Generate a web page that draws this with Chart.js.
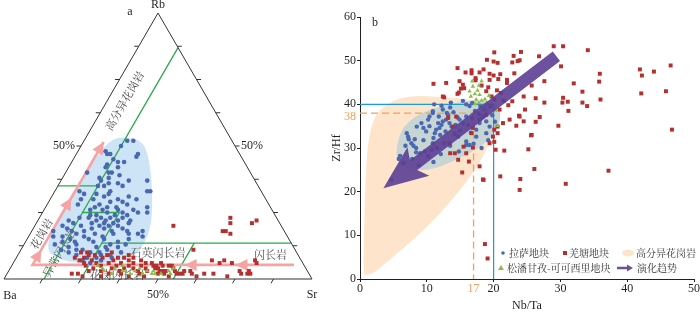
<!DOCTYPE html>
<html lang="zh">
<head>
<meta charset="utf-8">
<title>Rb-Ba-Sr 与 Zr/Hf-Nb/Ta 图解</title>
<script src="https://cdn.jsdelivr.net/npm/chart.js@4.4.1/dist/chart.umd.min.js"></script>
<style>
  html, body { margin: 0; padding: 0; background: #fff; }
  #page { position: relative; width: 700px; height: 313px; overflow: hidden; }
  #ternary { position: absolute; left: 0; top: 0; }
  #ratios { position: absolute; left: 330px; top: 0; }
</style>
</head>
<body>
<div id="page">
  <canvas id="ternary" width="330" height="313"></canvas>
  <canvas id="ratios" width="370" height="313"></canvas>
</div>
<script>
// ============================================
// a: Rb-Ba-Sr ternary   samples as [Rb %, Sr %]  (Ba = 100 - Rb - Sr)
// ============================================
const lhasaTern = [
  [52,14],[52,16],[47,10],[47,11],[46,20],[44,15],[40,7],[42,12],[40,14],[37,28],[37,22],[36,19],
  [37,13],[35,15],[33,18],[32,14],[33,30],[32,10],[30,10],[28,10],[31,17],[30,22],[28,26],[28,17],
  [27,20],[26,15],[27,16],[25,31],[25,34],[23,20],[22,22],[23,23],[21,25],[23,27],[20,21],[21,18],
  [18,17],[17,15],[18,13],[22,10],[20,9],[18,7],[16,8],[15,14],[13,17],[15,20],[16,24],[17,27],
  [18,31],[17,35],[18,36],[16,37],[15,33],[12,31],[11,28],[10,26],[8,23],[7,22],[10,33],[8,31],
  [47,20],[48,9],[44,17],[43,12],[40,15],[38,12],[38,15],[36,16],[33,31],[33,8],[35,13],[32,18],
  [27,33],[24,18],[25,21],[24,24],[22,19],[21,22],[20,24],[19,19],[19,23],[18,26],[17,21],[16,18],
  [15,25],[14,22],[13,28],[12,24],[11,20],[10,23],[9,27],[24,16],[26,19],[27,23],[29,20],[23,16],
  [20,15],[21,12],[14,12],[12,15],[11,18],[9,19],[8,26],[13,33],[9,30],[26,24],[25,26],[24,28],
  [22,26],[20,27],[19,29],[21,30],[14,30],[12,27],[23,13],[19,11],[16,11],[13,10],[14,16],[10,16],
  [11,13],[29,24],[30,14],[35,21],[39,18],[42,16],[45,13],[50,13],[30,28],[31,25],[26,29],[22,30],
  [17,32],[7,28],[6,25]
];
const qiangtangTern = [
  [20,45],[23,62],[21,63],[18,62],[18,63],[17,65],[22,71],[21,70],[11,56],[7,64],[6,67],[7,68],
  [2,64],[1,62],[2,67],[1,72],[2,76],[3,75],[2,78],[2,79],[7,78],[6,79],[6,71],[3,78],[3,57],
  [2,57],[2,55],[1,53],[3,51],[3,50],[4,48],[5,46],[5,49],[7,21],[8,22],[7,25],[5,29],[6,31],
  [7,32],[6,35],[5,38],[6,39],[5,42],[3,45],[4,47],[3,49],[5,51],[3,54],[2,56],[2,21],[1,25],
  [2,23],[1,40],[1,45],[2,49],[2,51],[10,22],[10,20],[10,30],[8,33],[8,35],[8,38],[7,41],[6,45],
  [6,48],[5,52],[4,27],[3,30],[4,33],[3,36],[5,34],[4,40],[2,43],[6,27],[5,24],[8,28],[9,25],
  [4,44],[3,42],[2,37],[2,33],[1,31],[3,26],[6,43],[5,47],[4,53],[3,59],[2,60],[9,29],[9,36],
  [7,37],[4,37],[6,23],[8,19],[9,23]
];
const songpanTern = [
  [5,28],[3,31],[4,34],[3,37],[3,41],[2,44],[3,45],[2,48],[2,50],[3,52],[4,53],[2,40],[2,47],
  [2,34],[4,30],[3,38],[4,42],[3,47],[2,53],[5,36]
];
// field boundaries, each a segment of two [Rb, Sr] ends
const fieldBoundaries = [
  [[0,13],[87,13]], [[0,25],[25,25]], [[25,13],[25,25]],
  [[35,0],[35,13]], [[13.5,25],[13.5,86.5]], [[0,55],[13.5,55]]
];
const lhasaBlobTern = [
  [53.5,12],[52,19.5],[42,26.6],[29.7,33.4],[19.7,37.9],[13.4,38.9],[8.4,38.2],[5.9,31.9],
  [5.9,20.1],[8.4,11.3],[12.1,7.9],[18.4,6.3],[29.7,6],[39.7,6.4],[48.5,7.4],[52.3,8.7]
];
const trendPathTern = [[5.3,91.5],[5.3,6.6],[51.5,6.6]];
const trendTipsSr = [56, 72.5];        // heads on the low-Rb leg (Sr %)
const trendTipsRb = [11, 30.5, 51.5];  // heads on the rising leg (Rb %)
const ternTicks = [12.5, 25, 37.5, 50, 62.5, 75, 87.5];

// ============================================
// b: Zr/Hf vs Nb/Ta   samples as [Nb/Ta, Zr/Hf]
// ============================================
const nbTaTicks = [0, 10, 17, 20, 30, 40, 50];
const zrHfTicks = [0, 10, 20, 30, 40, 50, 60];
const lhasaRatios = [
  [7.0,33.4],[7.2,32.6],[7.7,31.1],[8.0,30.5],[8.4,30.0],[9.0,28.8],[9.7,29.2],[10.2,28.1],
  [10.7,29.6],[10.9,31.1],[11.2,33.4],[11.4,34.2],[11.9,34.6],[12.2,35.3],[11.7,35.7],[12.4,36.1],
  [12.9,36.5],[13.4,35.7],[13.7,34.9],[14.3,35.3],[14.9,36.5],[15.4,35.7],[15.9,37.2],[16.2,35.3],
  [10.4,37.2],[10.2,36.5],[10.9,38.0],[9.2,35.7],[9.5,34.6],[9.9,33.8],[8.5,34.9],[17.9,35.7],
  [18.9,36.1],[19.4,34.9],[18.4,37.2],[17.4,34.2],[16.4,30.7],[15.9,31.5],[14.7,32.6],[4.7,22.7],
  [6.0,28.2],[7.3,32.0],[10.9,38.4],[12.4,38.8],[13.6,40.4],[15.4,40.8],[15.9,40.0],[16.4,39.6],
  [8.4,29.0],[15.9,30.7],[17.4,32.6],[18.9,33.4],[5.8,27.5],[6.5,26.5],[8.8,26.0],[12.0,33.0],
  [12.8,33.8],[13.2,37.5],[14.0,38.2],[14.6,37.0],[15.0,34.0],[16.8,36.8],[17.2,38.5],[17.8,37.8],
  [18.6,38.8],[19.5,39.5],[19.8,37.5],[20.2,36.0],[16.6,33.5],[14.2,33.2],[11.0,32.3],[12.6,31.2],
  [11.5,30.0],[13.5,30.5],[9.5,31.8],[8.2,32.0],[10.4,35.0],[11.8,37.2],[13.0,38.0],[6.8,30.5],
  [7.8,27.5],[11.0,26.8],[12.1,28.6],[14.8,29.2],[17.0,31.0],[18.2,30.0],[19.2,31.8],[11.1,40.0],
  [12.2,39.7],[13.5,39.3],[16.8,40.3],[18.0,39.6]
];
const qiangtangRatios = [
  [29.0,53.3],[30.4,53.3],[34.1,52.4],[24.1,52.0],[23.9,50.1],[26.8,51.0],[30.1,48.7],[35.9,47.0],
  [41.9,48.0],[46.5,48.9],[44.0,47.5],[42.2,46.6],[35.8,45.2],[32.0,44.8],[27.6,45.3],[25.7,44.3],
  [33.3,42.9],[45.8,43.0],[42.1,42.5],[24.5,41.8],[26.3,41.4],[30.4,41.5],[30.3,40.4],[31.1,40.6],
  [33.3,40.4],[34.0,39.6],[36.0,41.1],[27.6,40.4],[24.7,38.8],[31.2,38.5],[23.9,37.2],[24.5,36.1],
  [26.9,37.1],[26.3,36.0],[29.7,35.1],[46.7,34.2],[25.7,33.0],[25.2,29.7],[26.1,25.2],[37.2,24.8],
  [24.0,22.9],[30.8,21.8],[23.9,20.4],
  [20.1,51.9],[23.0,51.1],[19.0,50.2],[20.0,49.8],[20.6,49.5],[22.8,49.6],[23.6,49.9],[14.6,48.3],
  [15.8,47.3],[16.7,47.8],[16.7,47.1],[17.9,47.3],[18.5,48.0],[19.4,47.0],[20.0,46.6],[21.0,46.9],
  [23.1,47.1],[14.9,45.3],[17.3,46.0],[17.3,45.5],[19.4,45.6],[20.7,45.8],[22.0,45.6],[22.0,44.9],
  [11.0,44.7],[12.9,44.9],[15.4,44.5],[15.6,43.7],[18.2,44.3],[19.2,43.9],[15.1,43.6],[14.8,42.7],
  [14.6,42.4],[18.9,43.0],[20.5,43.2],[21.1,42.6],[19.7,41.8],[12.6,41.6],[20.1,41.1],[21.5,40.8],
  [22.8,40.7],[22.2,39.8],[20.9,38.8],[23.8,37.4],
  [13.5,28.8],[14.2,28.8],[14.7,27.3],[15.9,28.8],[16.3,26.9],[15.3,24.4],[18.5,22.7],[17.9,25.8],
  [21.0,23.5],[21.6,29.4],[19.4,31.1],[20.1,31.4],[13.4,31.1],[23.4,35.1],[22.4,36.5],[21.4,35.7],
  [20.6,34.9],[20.1,34.2],[20.6,33.4],[19.9,32.6],[16.7,33.4],[16.9,34.6],[13.9,34.9],[13.2,36.9],
  [14.4,37.2],[17.9,36.5],[18.9,37.6],[18.7,8.0],[19.1,4.7],[12.4,41.8],[20.3,29.6],[25.6,32.9],
  [16.9,30.1],[18.4,22.8],[15.5,30.3]
];
const songpanRatios = [
  [16.9,44.1],[17.8,44.3],[16.4,43.0],[17.2,42.4],[17.9,42.2],[17.4,41.1],[18.2,40.9],[18.7,41.2],
  [17.8,40.3],[17.2,40.1],[18.6,39.9],[19.0,40.4],[16.8,45.3],[18.2,45.3],[20.3,38.6],[20.6,35.1],
  [16.6,41.8],[19.3,42.0],[18.9,38.9],[17.6,43.2]
];
const fractionatedField = [
  [0.5,1],[0.6,10],[0.8,22],[1.2,32],[2.3,38],[5,41],[8,42],[12,41.7],[16,41.2],[19.5,40.3],
  [20.6,38],[20,34],[18.8,29],[16.8,24],[14,18.5],[11,13.5],[8,9],[5,5.2],[2.3,1.5],[1,0.9]
];
const lhasaField = [
  [5.4,29.5],[6,33.5],[7.3,36.2],[9.5,38.3],[12.5,39.8],[16,40.8],[19,41],[20.9,39.6],[21.1,36.5],
  [20.1,33],[17.6,29.8],[14.5,27.3],[10.5,24.8],[7.2,25.2],[5.6,27]
];
const chondriteNbTa = 17, chondriteZrHf = 38;
const lhasaNbTa = 20, lhasaZrHf = 40;
const trendFrom = [29.4, 51];
const trendTo = [3.5, 20.8];

// --- Styles ---
const SERIF = "'Liberation Serif', 'Times New Roman', serif";
const CJK = "'Noto Serif CJK SC', 'Noto Sans CJK SC', sans-serif";
const INK = '#231f20';
const C = {
  lhasa: '#4a68b0', qiangtang: '#b3302f', songpan: '#8dbb4c', field: '#2aa84a',
  pink: '#f5a3a3', blob: '#cde4f6', beige: '#fde4ca', lhasaField: '#c7d6d4',
  cyan: '#1b9ad6', orange: '#f0a05c', purple: 'rgba(92,62,148,0.9)'
};

const SQ3 = Math.sqrt(3) / 2;
const tern = ([rb, sr]) => ({ x: sr + rb / 2, y: rb * SQ3 });
const xy = ([a, b]) => ({ x: a, y: b });

// closed smooth outline through midpoints
function smoothClosed(ctx, pts) {
  const n = pts.length;
  const mid = (a, b) => [(a[0] + b[0]) / 2, (a[1] + b[1]) / 2];
  let m = mid(pts[n - 1], pts[0]);
  ctx.beginPath();
  ctx.moveTo(m[0], m[1]);
  for (let i = 0; i < n; i++) {
    const p = pts[i];
    m = mid(p, pts[(i + 1) % n]);
    ctx.quadraticCurveTo(p[0], p[1], m[0], m[1]);
  }
  ctx.closePath();
}

function headAt(ctx, tip, from, len, half) {
  const dx = tip[0] - from[0], dy = tip[1] - from[1], d = Math.hypot(dx, dy);
  const ux = dx / d, uy = dy / d;
  const bx = tip[0] - ux * len, by = tip[1] - uy * len;
  ctx.beginPath();
  ctx.moveTo(tip[0], tip[1]);
  ctx.lineTo(bx - uy * half, by + ux * half);
  ctx.lineTo(bx + uy * half, by - ux * half);
  ctx.closePath();
  ctx.fill();
}

function fatArrow(ctx, s, t, shaft, len, half, sweep) {
  const dx = t[0] - s[0], dy = t[1] - s[1], d = Math.hypot(dx, dy);
  const ux = dx / d, uy = dy / d, nx = -uy, ny = ux;
  const bx = t[0] - ux * len, by = t[1] - uy * len;
  const wx = bx - ux * sweep, wy = by - uy * sweep;
  ctx.beginPath();
  ctx.moveTo(s[0] + nx * shaft, s[1] + ny * shaft);
  ctx.lineTo(bx + nx * shaft, by + ny * shaft);
  ctx.lineTo(wx + nx * half, wy + ny * half);
  ctx.lineTo(t[0], t[1]);
  ctx.lineTo(wx - nx * half, wy - ny * half);
  ctx.lineTo(bx - nx * shaft, by - ny * shaft);
  ctx.lineTo(s[0] - nx * shaft, s[1] - ny * shaft);
  ctx.closePath();
  ctx.fill();
}

const pointSet = (label, data, color, style, radius, order) => ({
  label, data, backgroundColor: color, borderWidth: 0, pointStyle: style,
  pointRadius: radius, clip: false, order
});

// ============================================
// Chart a
// ============================================
const fieldLabels = [
  { text: '高分异花岗岩', at: [67, 5.6], rot: -Math.PI / 3 },
  { text: '花岗岩', at: [17, 3.6], rot: -Math.PI / 3 },
  { text: '异常闪长岩', at: [10, 13], rot: -Math.PI / 3 },
  { text: '花岗闪长岩', at: [1.5, 36], rot: 0 },
  { text: '石英闪长岩', at: [10, 45], rot: 0 },
  { text: '闪长岩', at: [9, 82], rot: 0 }
];

const ternaryDecor = {
  id: 'ternaryDecor',
  beforeDatasetsDraw(chart) {
    const ctx = chart.ctx;
    const P = pt => { const p = tern(pt); return [chart.scales.x.getPixelForValue(p.x), chart.scales.y.getPixelForValue(p.y)]; };
    ctx.save();
    ctx.fillStyle = C.blob;
    smoothClosed(ctx, lhasaBlobTern.map(P));
    ctx.fill();
    ctx.fillStyle = '#4d4d4d';
    ctx.font = `11px ${CJK}`;
    ctx.textAlign = 'center';
    ctx.textBaseline = 'middle';
    fieldLabels.forEach(f => {
      const [x, y] = P(f.at);
      ctx.save();
      ctx.translate(x, y);
      ctx.rotate(f.rot);
      ctx.fillText(f.text, 0, 0);
      ctx.restore();
    });
    ctx.restore();
  },
  afterDatasetDraw(chart, args) {
    if (chart.data.datasets[args.index].label !== 'trend') return;
    const ctx = chart.ctx;
    const P = pt => { const p = tern(pt); return [chart.scales.x.getPixelForValue(p.x), chart.scales.y.getPixelForValue(p.y)]; };
    const low = trendPathTern[1][0], rise = trendPathTern[2][1];
    ctx.save();
    ctx.fillStyle = C.pink;
    trendTipsSr.forEach(s => headAt(ctx, P([low, s]), P([low, s + 5]), 12, 6));
    trendTipsRb.forEach(r => headAt(ctx, P([r, rise]), P([r - 5, rise]), 12, 6));
    ctx.restore();
  },
  afterDatasetsDraw(chart) {
    const ctx = chart.ctx;
    const P = pt => { const p = tern(pt); return [chart.scales.x.getPixelForValue(p.x), chart.scales.y.getPixelForValue(p.y)]; };
    ctx.save();
    ctx.strokeStyle = '#333';
    ctx.lineWidth = 1;
    const seg = (a, b) => { ctx.beginPath(); ctx.moveTo(a[0], a[1]); ctx.lineTo(b[0], b[1]); ctx.stroke(); };
    ternTicks.forEach(f => {
      const b = P([0, f]); seg(b, [b[0] - 2.5, b[1] + 4.3]);
      const l = P([f, 0]); seg(l, [l[0] - 4.5, l[1]]);
      const r = P([f, 100 - f]); seg(r, [r[0] + 4.5, r[1]]);
    });
    ctx.fillStyle = INK;
    ctx.font = `12px ${SERIF}`;
    ctx.textBaseline = 'middle';
    const ba = P([0, 0]), sr = P([0, 100]), rb = P([100, 0]);
    ctx.textAlign = 'center';
    ctx.fillText('Rb', rb[0], rb[1] - 8);
    ctx.fillText('Ba', ba[0] + 6, ba[1] + 17);
    ctx.fillText('Sr', sr[0], sr[1] + 16);
    ctx.fillText('a', rb[0] - 28, rb[1] - 1);
    const mb = P([0, 50]);
    ctx.fillText('50%', mb[0], mb[1] + 16);
    const ml = P([50, 0]);
    ctx.textAlign = 'right';
    ctx.fillText('50%', ml[0] - 6, ml[1]);
    const mr = P([50, 50]);
    ctx.textAlign = 'left';
    ctx.fillText('50%', mr[0] + 6, mr[1]);
    ctx.restore();
  }
};

new Chart(document.getElementById('ternary'), {
  type: 'scatter',
  data: {
    datasets: [
      { label: 'frame', type: 'line', data: [[0, 0], [0, 100], [100, 0], [0, 0]].map(tern),
        borderColor: '#333', borderWidth: 1, pointRadius: 0, clip: false, order: 0 },
      ...fieldBoundaries.map((s, i) => ({
        label: 'field' + i, type: 'line', data: s.map(tern), borderColor: C.field,
        borderWidth: 1.3, pointRadius: 0, clip: false, order: 6
      })),
      { label: 'trend', type: 'line', data: trendPathTern.map(tern), borderColor: C.pink,
        borderWidth: 2.6, pointRadius: 0, clip: false, order: 5 },
      pointSet('拉萨地块', lhasaTern.map(tern), C.lhasa, 'circle', 2.3, 3),
      pointSet('羌塘地块', qiangtangTern.map(tern), C.qiangtang, 'rect', 2.8, 2),
      pointSet('松潘甘孜-可可西里地块', songpanTern.map(tern), C.songpan, 'triangle', 2.6, 1)
    ]
  },
  options: {
    responsive: false,
    animation: false,
    events: [],
    layout: { padding: { left: 2, right: 18, top: 13, bottom: 34 } },
    plugins: { legend: { display: false }, tooltip: { enabled: false } },
    scales: {
      x: { type: 'linear', min: 0, max: 100, display: false },
      y: { type: 'linear', min: 0, max: 100 * SQ3, display: false }
    }
  },
  plugins: [ternaryDecor]
});

// ============================================
// Chart b
// ============================================
const ratioDecor = {
  id: 'ratioDecor',
  beforeDatasetsDraw(chart) {
    const { ctx, scales: { x, y } } = chart;
    const P = ([a, b]) => [x.getPixelForValue(a), y.getPixelForValue(b)];
    ctx.save();
    ctx.fillStyle = C.beige;
    smoothClosed(ctx, fractionatedField.map(P));
    ctx.fill();
    ctx.fillStyle = C.lhasaField;
    smoothClosed(ctx, lhasaField.map(P));
    ctx.fill();
    ctx.restore();
  },
  afterDatasetsDraw(chart) {
    const { ctx, scales: { x, y } } = chart;
    ctx.save();
    ctx.fillStyle = C.purple;
    fatArrow(ctx, [x.getPixelForValue(trendFrom[0]), y.getPixelForValue(trendFrom[1])],
      [x.getPixelForValue(trendTo[0]), y.getPixelForValue(trendTo[1])], 6, 38, 18, 6);
    ctx.restore();
  },
  afterDraw(chart) {
    const { ctx, chartArea: { left: L, top: T, bottom: B }, scales: { y } } = chart;
    ctx.save();
    ctx.textBaseline = 'middle';
    ctx.font = `12px ${SERIF}`;
    ctx.fillStyle = C.orange;
    ctx.textAlign = 'right';
    ctx.fillText(String(chondriteZrHf), L - 4, y.getPixelForValue(chondriteZrHf) + 4);
    ctx.fillStyle = INK;
    ctx.textAlign = 'left';
    ctx.fillText('b', L + 12, T + 6);

    // legend
    const r1 = B - 26, r2 = B - 11;
    ctx.font = `10px ${CJK}`;
    ctx.fillStyle = C.lhasa;
    ctx.beginPath(); ctx.arc(L + 143, r1, 1.8, 0, Math.PI * 2); ctx.fill();
    ctx.fillStyle = C.qiangtang;
    ctx.fillRect(L + 203, r1 - 2, 4, 4);
    ctx.fillStyle = C.beige;
    ctx.beginPath(); ctx.ellipse(L + 268, r1, 6, 3.5, 0, 0, Math.PI * 2); ctx.fill();
    ctx.fillStyle = C.songpan;
    ctx.beginPath(); ctx.moveTo(L + 141, r2 - 3); ctx.lineTo(L + 144, r2 + 2); ctx.lineTo(L + 138, r2 + 2); ctx.closePath(); ctx.fill();
    ctx.fillStyle = C.purple;
    fatArrow(ctx, [L + 257, r2], [L + 273, r2], 1.2, 6, 3.5, 0);
    ctx.fillStyle = '#333';
    ctx.fillText('拉萨地块', L + 149, r1);
    ctx.fillText('羌塘地块', L + 209, r1);
    ctx.fillText('高分异花岗岩', L + 276, r1);
    ctx.fillText('松潘甘孜-可可西里地块', L + 147, r2);
    ctx.fillText('演化趋势', L + 277, r2);
    ctx.restore();
  }
};

const hideAt = v => c => (c.tick && c.tick.value === v ? 'rgba(0,0,0,0)' : INK);

new Chart(document.getElementById('ratios'), {
  type: 'scatter',
  data: {
    datasets: [
      { label: 'lhasaLimit', type: 'line',
        data: [[0, lhasaZrHf], [lhasaNbTa, lhasaZrHf], [lhasaNbTa, 0]].map(xy),
        borderColor: C.cyan, borderWidth: 1.2, pointRadius: 0, order: 7 },
      { label: 'chondrite', type: 'line',
        data: [[0, chondriteZrHf], [chondriteNbTa, chondriteZrHf], [chondriteNbTa, 0]].map(xy),
        borderColor: C.orange, borderWidth: 1.3, borderDash: [7, 4], pointRadius: 0, order: 6 },
      pointSet('拉萨地块', lhasaRatios.map(xy), C.lhasa, 'circle', 2.2, 3),
      pointSet('羌塘地块', qiangtangRatios.map(xy), C.qiangtang, 'rect', 2.8, 2),
      pointSet('松潘甘孜-可可西里地块', songpanRatios.map(xy), C.songpan, 'triangle', 2.6, 1)
    ]
  },
  options: {
    responsive: false,
    animation: false,
    events: [],
    layout: { padding: { top: 17, right: 5, left: 0, bottom: 0 } },
    plugins: { legend: { display: false }, tooltip: { enabled: false } },
    scales: {
      x: {
        type: 'linear', min: 0, max: 50,
        afterBuildTicks: s => { s.ticks = nbTaTicks.map(v => ({ value: v })); },
        afterFit: s => { s.height = 34; },
        border: { display: true, color: INK, width: 1 },
        grid: { drawOnChartArea: false, drawTicks: true, tickLength: 3, tickColor: hideAt(chondriteNbTa) },
        ticks: {
          autoSkip: false, maxRotation: 0, padding: 0,
          font: { family: SERIF, size: 12 },
          color: c => (c.tick && c.tick.value === chondriteNbTa ? C.orange : INK)
        },
        title: { display: true, text: 'Nb/Ta', font: { family: SERIF, size: 12 }, color: INK, padding: 0 }
      },
      y: {
        type: 'linear', min: 0, max: 60,
        afterBuildTicks: s => { s.ticks = zrHfTicks.map(v => ({ value: v })); },
        afterFit: s => { s.width = 30; },
        border: { display: true, color: INK, width: 1 },
        grid: { drawOnChartArea: false, drawTicks: true, tickLength: 3, tickColor: INK },
        ticks: { autoSkip: false, padding: 1, font: { family: SERIF, size: 12 }, color: INK },
        title: { display: true, text: 'Zr/Hf', font: { family: SERIF, size: 12 }, color: INK, padding: 0 }
      }
    }
  },
  plugins: [ratioDecor]
});
</script>
</body>
</html>
